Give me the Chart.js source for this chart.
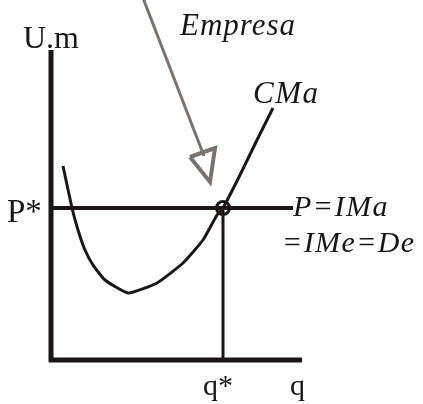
<!DOCTYPE html>
<html><head><meta charset="utf-8">
<script src="https://cdn.jsdelivr.net/npm/chart.js@4"></script>
<style>html,body{margin:0;padding:0;background:#fff;overflow:hidden}canvas{display:block}</style>
</head><body>
<canvas id="c" width="423" height="404"></canvas>
<script>
// Marginal cost curve CMa (q, U.m)
const cmaQ = [12, 21, 27, 34, 42, 54, 77, 106, 132, 152, 166, 172, 189, 206, 222];
const cmaC = [194, 152, 130, 110, 95, 80, 67, 77, 97, 120, 145, 152, 185, 220, 252];
// Equilibrium
const qStar = 172;
const pStar = 152;
// Axis extents
const qMax = 251;
const yMax = 310;
// Arrow "Empresa"
const arrowQ = [92, 153];
const arrowY = [362, 204];
const headQ = [139, 164, 159, 139];
const headY = [203, 212, 178, 203];
// Labels
const labels = {yAxis: "U.m", firm: "Empresa", curve: "CMa", p: "P*", price1: "P=IMa", price2: "=IMe=De", qs: "q*", q: "q"};

const pts = (xs, ys) => xs.map((x, i) => ({x, y: ys[i]}));
const ink = '#1c1716';

const textPlugin = {
  id: 'texts',
  afterDraw(chart) {
    const {ctx, scales: {x, y}} = chart;
    const put = (t, qx, qy, size, italic, spacing) => {
      ctx.save();
      ctx.font = (italic ? 'italic ' : '') + size + 'px "Liberation Serif", "DejaVu Serif", serif';
      ctx.fillStyle = ink;
      ctx.textAlign = 'left';
      ctx.textBaseline = 'alphabetic';
      ctx.letterSpacing = (spacing || 0) + 'px';
      ctx.fillText(t, x.getPixelForValue(qx), y.getPixelForValue(qy));
      ctx.restore();
    };
    put(labels.yAxis, -28, 312, 32, false, 0);
    put(labels.firm, 129, 325, 31, true, 1);
    put(labels.curve, 202, 257, 31, true, 1.5);
    put(labels.p, -44, 138, 33, false, 0);
    put(labels.price1, 242, 144, 30, true, 1.5);
    put(labels.price2, 231, 108, 30, true, 1.4);
    put(labels.qs, 152, -35, 30, false, 0);
    put(labels.q, 239, -35, 30, false, 0);
  }
};

new Chart(document.getElementById('c'), {
  type: 'scatter',
  data: {
    datasets: [
      {data: pts([0, 0], [-2, yMax]), showLine: true, borderColor: ink, borderWidth: 5, pointRadius: 0},
      {data: pts([-2, qMax], [0, 0]), showLine: true, borderColor: ink, borderWidth: 5, pointRadius: 0},
      {data: pts([0, 242], [pStar, pStar]), showLine: true, borderColor: ink, borderWidth: 4, pointRadius: 0},
      {data: pts([qStar, qStar], [0, pStar]), showLine: true, borderColor: ink, borderWidth: 3, pointRadius: 0},
      {data: pts(cmaQ, cmaC), showLine: true, borderColor: ink, borderWidth: 3, pointRadius: 0, tension: 0.15},
      {data: pts(arrowQ, arrowY), showLine: true, borderColor: '#7a7370', borderWidth: 3, pointRadius: 0},
      {data: pts(headQ, headY), showLine: true, borderColor: '#7a7370', borderWidth: 4, pointRadius: 0, fill: false, borderJoinStyle: 'miter'},
      {data: [{x: qStar, y: pStar}], pointRadius: 6.5, pointBorderWidth: 3, pointBackgroundColor: '#fff', pointBorderColor: ink}
    ]
  },
  options: {
    responsive: false,
    animation: false,
    layout: {padding: 0, autoPadding: false},
    plugins: {legend: {display: false}, tooltip: {enabled: false}},
    scales: {
      x: {type: 'linear', display: false, min: -51, max: 372},
      y: {type: 'linear', display: false, min: -44, max: 360}
    }
  },
  plugins: [textPlugin]
});
</script>
</body></html>
